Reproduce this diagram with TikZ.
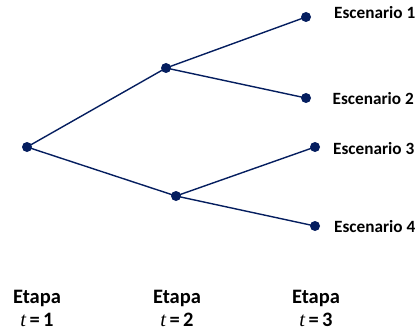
\documentclass[tikz,border=0pt]{standalone}
\usepackage{fontspec}
\setmainfont{Carlito}
\newfontfamily\tfont{Liberation Serif}
\definecolor{navy}{RGB}{5,30,95}
\begin{document}
\begin{tikzpicture}[x=1pt,y=-1pt,
  dotnode/.style={circle,fill=navy,inner sep=0pt,minimum size=10pt},
  edge/.style={draw=navy,line width=1.4pt},
  esc/.style={anchor=base west,inner sep=0pt,font=\fontsize{17.2}{19}\selectfont\bfseries},
  etapa/.style={anchor=base,inner sep=0pt,font=\fontsize{20.5}{22}\selectfont\bfseries}]
\useasboundingbox (0,0) rectangle (417,334);
\node[dotnode] (r) at (27,147) {};
\node[dotnode] (a) at (166,68) {};
\node[dotnode] (b) at (176,196) {};
\node[dotnode] (l1) at (306,17) {};
\node[dotnode] (l2) at (306,98) {};
\node[dotnode] (l3) at (315,147) {};
\node[dotnode] (l4) at (315,226) {};
\draw[edge] (r.center) -- (a.center);
\draw[edge] (r.center) -- (b.center);
\draw[edge] (a.center) -- (l1.center);
\draw[edge] (a.center) -- (l2.center);
\draw[edge] (b.center) -- (l3.center);
\draw[edge] (b.center) -- (l4.center);
\node[esc] (e1) at (334,18.5) {Escenario 1};
\node[esc] (e2) at (332.5,105) {Escenario 2};
\node[esc] (e3) at (333,154.5) {Escenario 3};
\node[esc] (e4) at (334,232.5) {Escenario 4};
\node[etapa] (s1) at (37,303) {Etapa};
\node[etapa] (s2) at (177,303) {Etapa};
\node[etapa] (s3) at (316,303) {Etapa};
\node[etapa] (t1) at (37,326) {{\tfont\mdseries\itshape t}\,=\,1};
\node[etapa] (t2) at (177,326) {{\tfont\mdseries\itshape t}\,=\,2};
\node[etapa] (t3) at (316,326) {{\tfont\mdseries\itshape t}\,=\,3};
\end{tikzpicture}
\end{document}
